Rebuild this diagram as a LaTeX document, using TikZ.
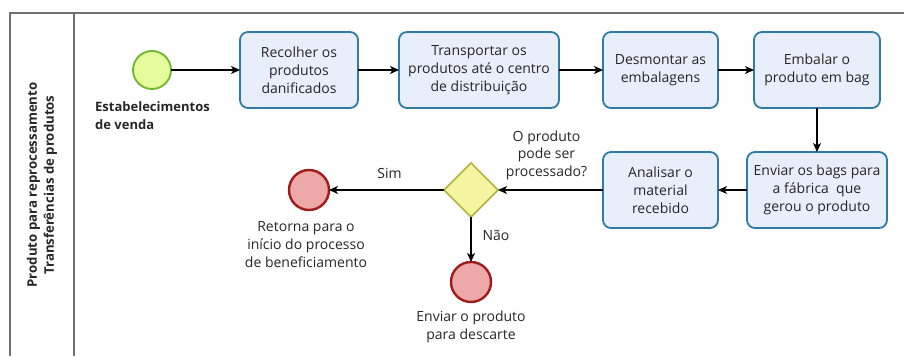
\documentclass[tikz,border=0pt]{standalone}
\usepackage{fontspec}
\setmainfont{Open Sans}
\usepackage{tikz,tkz-graph}
\usetikzlibrary{shapes.geometric,arrows.meta}
\definecolor{taskFill}{HTML}{E9EEFB}
\definecolor{taskLine}{HTML}{2D7BA6}
\definecolor{startFill}{HTML}{E4FC9C}
\definecolor{startLine}{HTML}{6DB52D}
\definecolor{endFill}{HTML}{EDA8A8}
\definecolor{endLine}{HTML}{A01C1C}
\definecolor{gateFill}{HTML}{F6F6A2}
\definecolor{gateLine}{HTML}{B2B23C}
\definecolor{laneLine}{HTML}{707070}
\definecolor{textGray}{HTML}{262626}
\tikzstyle{taskStyle}=[shape = rectangle, rounded corners = 8pt, draw = taskLine, fill = taskFill, line width = 1.8pt, minimum height = 76pt, inner sep = 1pt, align = center, text = textGray, font = \fontsize{14}{18}\selectfont]
\tikzstyle{startStyle}=[shape = circle, minimum size = 38pt, inner sep = 0pt, draw = startLine, fill = startFill, line width = 1.8pt]
\tikzstyle{endStyle}=[shape = circle, minimum size = 40pt, inner sep = 0pt, draw = endLine, fill = endFill, line width = 2.4pt]
\tikzstyle{gateStyle}=[shape = diamond, minimum width = 54pt, minimum height = 54pt, inner sep = 0pt, draw = gateLine, fill = gateFill, line width = 1.5pt]
\tikzstyle{textStyle}=[align = center, text = textGray, inner sep = 0pt, font = \fontsize{14}{18}\selectfont]

\begin{document}
\begin{tikzpicture}[x = 1pt, y = -1pt]
\tikzstyle{VertexStyle} = []
\tikzstyle{EdgeStyle} = [draw, line width = 1.2pt, black, -{Stealth[length = 9pt, width = 8pt, inset = 2.5pt]}]
\tikzstyle{LabelStyle} = [fill = none, align = center, text = textGray, inner sep = 1pt, font = \fontsize{14}{17.5}\selectfont]
\useasboundingbox (0,0) rectangle (904,356);
% pool and lane
\draw[laneLine, line width = 1.4pt] (904,13) -- (10,13) -- (10,356);
\draw[laneLine, line width = 1.4pt] (74,13) -- (74,356);
\node[rotate = 90, align = center, text = textGray, font = \bfseries\fontsize{13.2}{17}\selectfont] (lane) at (42,185) {Produto para reprocessamento\\Transferências de produtos};
% events and tasks
\Vertex[style = startStyle, x = 152, y = 70, L = {$~$}]{inicio}
\Vertex[style = {taskStyle, minimum width = 118pt}, x = 299, y = 70, L = {Recolher os\\produtos\\danificados}]{recolher}
\Vertex[style = {taskStyle, minimum width = 160pt}, x = 479, y = 70, L = {Transportar os\\produtos até o centro\\de distribuição}]{transportar}
\Vertex[style = {taskStyle, minimum width = 115pt}, x = 660.5, y = 70, L = {Desmontar as\\embalagens}]{desmontar}
\Vertex[style = {taskStyle, minimum width = 126pt}, x = 817, y = 70, L = {Embalar o\\produto em bag}]{embalar}
\Vertex[style = {taskStyle, minimum width = 140pt}, x = 817, y = 190, L = {Enviar os bags para\\a fábrica\ \ que\\gerou o produto}]{enviar}
\Vertex[style = {taskStyle, minimum width = 115pt}, x = 660.5, y = 190, L = {Analisar o\\material\\recebido}]{analisar}
\Vertex[style = gateStyle, x = 471, y = 190, L = {$~$}]{decisao}
\Vertex[style = endStyle, x = 309, y = 190, L = {$~$}]{retorna}
\Vertex[style = endStyle, x = 471, y = 282, L = {$~$}]{descarte}
% texts of the events
\node[textStyle, anchor = west, align = left, font = \bfseries\fontsize{13}{18}\selectfont] (tInicio) at (95,116) {Estabelecimentos\\de venda};
\node[textStyle] (tRetorna) at (306,245) {Retorna para o\\início do processo\\de beneficiamento};
\node[textStyle] (tDescarte) at (471,327) {Enviar o produto\\para descarte};
% flows
\Edge(inicio)(recolher)
\Edge(recolher)(transportar)
\Edge(transportar)(desmontar)
\Edge(desmontar)(embalar)
\Edge(embalar)(enviar)
\Edge(enviar)(analisar)
\Edge[label = {O produto\\pode ser\\processado?}, labelstyle = {above = 9pt, xshift = -4pt}](analisar)(decisao)
\Edge[label = {Sim}, labelstyle = {above = 10pt, xshift = 3pt}](decisao)(retorna)
\Edge[label = {Não}, labelstyle = {right = 10pt, yshift = 4pt}](decisao)(descarte)
\end{tikzpicture}
\end{document}
